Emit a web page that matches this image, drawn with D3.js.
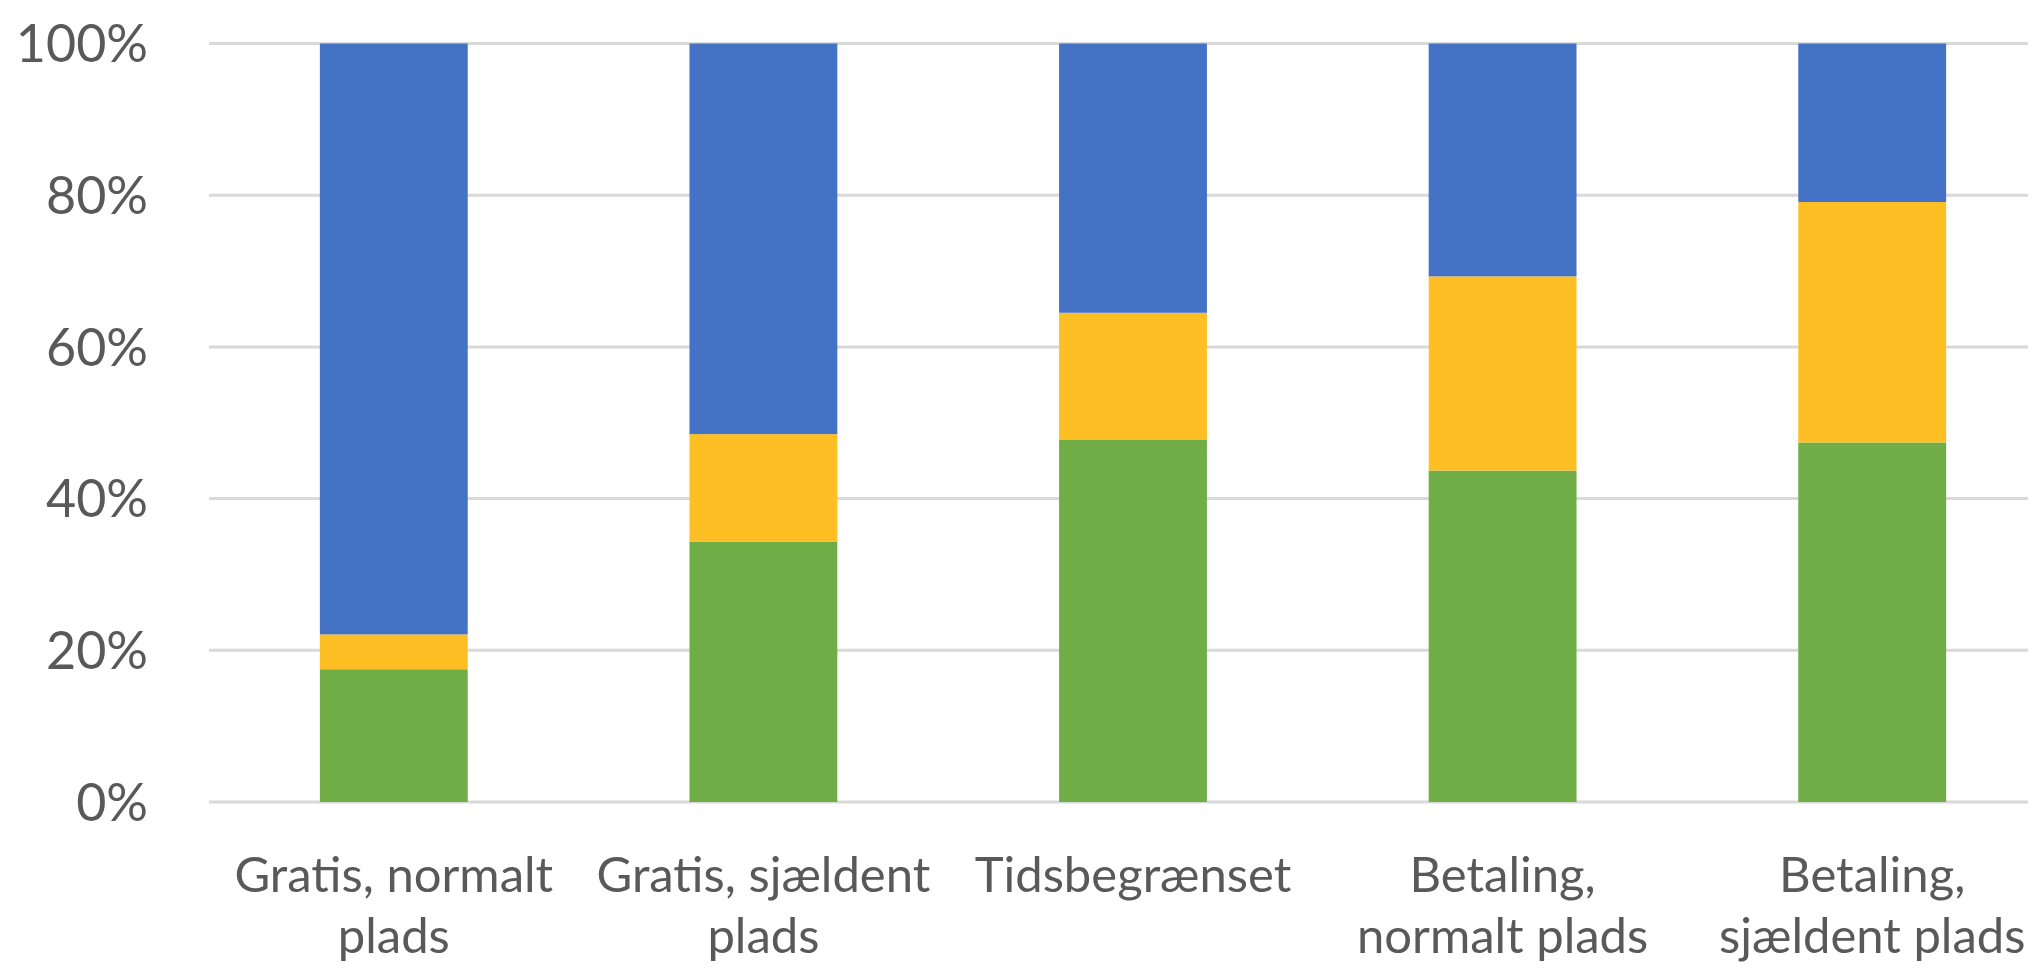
<!DOCTYPE html>
<html>
<head>
<meta charset="utf-8">
<script src="https://cdn.jsdelivr.net/npm/d3@7"></script>
<style>
  body { margin: 0; background: #fff; }
  text { font-family: Lato, "Open Sans", sans-serif; fill: #595959; }
</style>
</head>
<body>
<svg id="chart" width="2033" height="969"></svg>
<script>
// categories and stacked shares (percent), bottom to top: green, yellow, blue
var categories = ["Gratis, normalt plads", "Gratis, sjældent plads", "Tidsbegrænset", "Betaling, normalt plads", "Betaling, sjældent plads"];
var labelLines = [["Gratis, normalt", "plads"], ["Gratis, sjældent", "plads"], ["Tidsbegrænset"], ["Betaling,", "normalt plads"], ["Betaling,", "sjældent plads"]];
var greenValues  = [17.5, 34.3, 47.8, 43.7, 47.4];
var yellowValues = [4.6, 14.2, 16.7, 25.6, 31.7];
var blueValues   = [77.9, 51.5, 35.5, 30.7, 20.9];
var yTicks = [0, 20, 40, 60, 80, 100];

var seriesKeys = ["green", "yellow", "blue"];
var colors = {green: "#70AD47", yellow: "#FDBF24", blue: "#4472C4"};

function draw() {
  var rows = categories.map(function(c, i) {
    return {cat: c, green: greenValues[i], yellow: yellowValues[i], blue: blueValues[i]};
  });

  var svg = d3.select("#chart");

  // plot area
  var plotLeft = 209, plotRight = 2057, plotTop = 43.5, plotBottom = 802, gridEnd = 2028;

  var x = d3.scaleBand()
    .domain(categories)
    .range([plotLeft, plotRight])
    .paddingInner(0.6)
    .paddingOuter(0.3);

  var y = d3.scaleLinear()
    .domain([0, 100])
    .range([plotBottom, plotTop]);

  // gridlines
  svg.append("g")
    .selectAll("line")
    .data(yTicks)
    .join("line")
      .attr("x1", plotLeft)
      .attr("x2", gridEnd)
      .attr("y1", function(d) { return y(d); })
      .attr("y2", function(d) { return y(d); })
      .attr("stroke", "#d9d9d9")
      .attr("stroke-width", 3);

  // y labels
  svg.append("g")
    .selectAll("text")
    .data(yTicks)
    .join("text")
      .attr("x", 148)
      .attr("y", function(d) { return y(d); })
      .attr("dy", "0.36em")
      .attr("text-anchor", "end")
      .style("font-size", "52px")
      .text(function(d) { return d + "%"; });

  // stacked bars
  var layers = d3.stack().keys(seriesKeys)(rows);

  svg.append("g")
    .selectAll("g")
    .data(layers)
    .join("g")
      .attr("fill", function(d) { return colors[d.key]; })
    .selectAll("rect")
    .data(function(d) { return d; })
    .join("rect")
      .attr("x", function(d) { return x(d.data.cat); })
      .attr("width", x.bandwidth())
      .attr("y", function(d) { return y(d[1]); })
      .attr("height", function(d) { return y(d[0]) - y(d[1]); });

  // category labels, wrapped like the original
  var lab = svg.append("g")
    .selectAll("text")
    .data(categories)
    .join("text")
      .attr("text-anchor", "middle")
      .attr("x", function(d) { return x(d) + x.bandwidth() / 2; })
      .attr("y", 892)
      .style("font-size", "49px");

  lab.selectAll("tspan")
    .data(function(d, i) { return labelLines[i].map(function(t) { return {t: t, cx: x(d) + x.bandwidth() / 2}; }); })
    .join("tspan")
      .attr("x", function(d) { return d.cx; })
      .attr("dy", function(d, i) { return i === 0 ? 0 : 61; })
      .text(function(d) { return d.t; });
}
draw();
</script>
</body>
</html>
